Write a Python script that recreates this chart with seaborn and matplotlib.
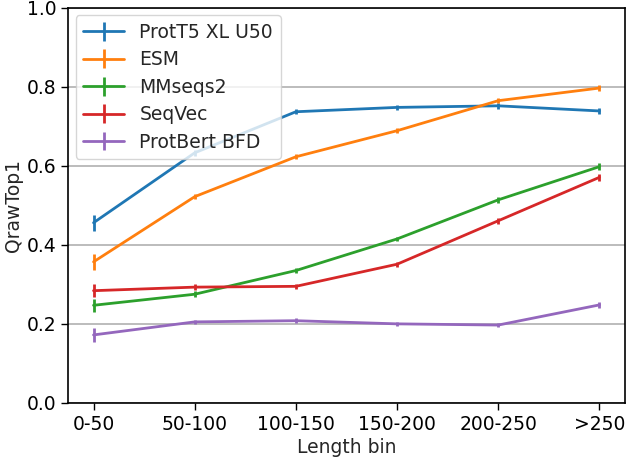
import numpy as np
import pandas as pd
import seaborn as sns
import matplotlib
matplotlib.use("Agg")
import matplotlib.pyplot as plt

# values
bins = ["0-50", "50-100", "100-150", "150-200", "200-250", ">250"]
models = ["ProtT5 XL U50", "ESM", "MMseqs2", "SeqVec", "ProtBert BFD"]

prott5 = [0.456, 0.633, 0.737, 0.748, 0.752, 0.739]
esm = [0.357, 0.522, 0.623, 0.689, 0.765, 0.797]
mmseqs2 = [0.247, 0.275, 0.335, 0.415, 0.514, 0.598]
seqvec = [0.284, 0.293, 0.295, 0.351, 0.461, 0.571]
protbert = [0.172, 0.205, 0.208, 0.200, 0.197, 0.248]

prott5_err = [0.020, 0.007, 0.006, 0.006, 0.007, 0.008]
esm_err = [0.020, 0.007, 0.006, 0.006, 0.007, 0.008]
mmseqs2_err = [0.017, 0.007, 0.006, 0.006, 0.008, 0.009]
seqvec_err = [0.017, 0.007, 0.006, 0.006, 0.008, 0.009]
protbert_err = [0.017, 0.006, 0.006, 0.005, 0.006, 0.008]

values = [prott5, esm, mmseqs2, seqvec, protbert]
errors = [prott5_err, esm_err, mmseqs2_err, seqvec_err, protbert_err]

sns.set_style("ticks")
plt.rcParams["font.family"] = ["DejaVu Sans"]
palette = sns.color_palette("tab10", len(models))

fig, ax = plt.subplots(figsize=(6.26, 4.62), dpi=100)
plt.subplots_adjust(left=0.109, right=0.998, top=0.983, bottom=0.128)

fs = 13.5
x = np.arange(len(bins))
for name, vals, errs, col in zip(models, values, errors, palette):
    ax.errorbar(x, vals, yerr=errs, color=col, lw=2, elinewidth=2,
                capsize=0, label=name)

ax.set_xticks(x)
ax.set_xticklabels(bins, fontsize=fs)
ax.set_ylim(0, 1.0)
ax.set_yticks(np.arange(0, 1.01, 0.2))
ax.tick_params(axis="y", labelsize=fs)
ax.tick_params(axis="both", length=5, width=1, colors="black")
ax.set_xlabel("Length bin", fontsize=fs, labelpad=3)
ax.set_ylabel("QrawTop1", fontsize=fs, labelpad=3)
ax.yaxis.grid(True, color="#b0b0b0", lw=1.2)
ax.set_axisbelow(True)
for sp in ax.spines.values():
    sp.set_color("black")
    sp.set_linewidth(1.2)
ax.legend(loc="upper left", fontsize=fs, frameon=True, handlelength=2.2,
          borderaxespad=0.4, labelspacing=0.45)

plt.savefig("out.png", dpi=100)
